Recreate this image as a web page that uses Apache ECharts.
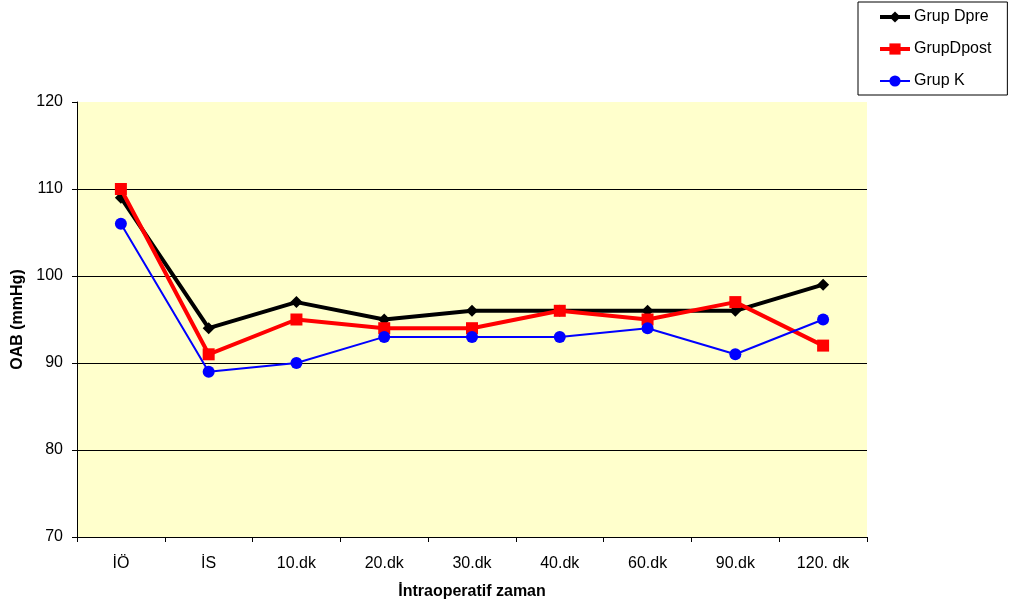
<!DOCTYPE html>
<html>
<head>
<meta charset="utf-8">
<script src="https://cdn.jsdelivr.net/npm/echarts@6/dist/echarts.min.js"></script>
<style>
  html, body { margin: 0; padding: 0; background: #fff; }
  #chart { width: 1011px; height: 608px; }
</style>
</head>
<body>
<div id="chart"></div>
<script>
// Intraoperative time points
const categories = ['İÖ', 'İS', '10.dk', '20.dk', '30.dk', '40.dk', '60.dk', '90.dk', '120. dk'];

// Mean arterial pressure (mmHg) per group
const grupDpre  = [109, 94, 97, 95, 96, 96, 96, 96, 99];
const grupDpost = [110, 91, 95, 94, 94, 96, 95, 97, 92];
const grupK     = [106, 89, 90, 93, 93, 93, 94, 91, 95];

const yTicks = [70, 80, 90, 100, 110, 120];

const font = 'Arial, "Liberation Sans", sans-serif';

const chart = echarts.init(document.getElementById('chart'), null, { renderer: 'canvas' });

chart.setOption({
  animation: false,
  backgroundColor: '#ffffff',
  grid: {
    left: 77, top: 102, width: 790, height: 435,
    containLabel: false,
    outerBoundsMode: 'none',
    show: true, backgroundColor: '#FFFFCC', borderWidth: 0
  },
  legend: {
    orient: 'vertical',
    left: 858, top: 2,
    padding: [7, 16, 6, 20],
    borderColor: '#000', borderWidth: 1,
    backgroundColor: '#fff',
    itemWidth: 30, itemHeight: 14,
    itemGap: 16,
    textStyle: { fontFamily: font, fontSize: 16, color: '#000', padding: [0, 0, 0, -1] },
    data: [
      { name: 'Grup Dpre', lineStyle: { width: 4 } },
      { name: 'GrupDpost', lineStyle: { width: 4 } },
      { name: 'Grup K', lineStyle: { width: 2 } }
    ]
  },
  xAxis: {
    type: 'category',
    data: categories,
    boundaryGap: true,
    name: 'İntraoperatif zaman',
    nameLocation: 'middle',
    nameGap: 47,
    nameTextStyle: { fontFamily: font, fontSize: 16, fontWeight: 'bold', color: '#000' },
    axisLine: { lineStyle: { color: '#000', width: 1 } },
    axisTick: { show: true, length: 5, lineStyle: { color: '#000' } },
    axisLabel: { fontFamily: font, fontSize: 16, color: '#000', margin: 19 },
    splitLine: { show: false }
  },
  yAxis: {
    type: 'value',
    min: yTicks[0], max: yTicks[yTicks.length - 1], interval: 10,
    name: 'OAB (mmHg)',
    nameLocation: 'middle',
    nameGap: 50,
    nameTextStyle: { fontFamily: font, fontSize: 16, fontWeight: 'bold', color: '#000' },
    axisLine: { show: true, lineStyle: { color: '#000', width: 1 } },
    axisTick: { show: true, length: 5, lineStyle: { color: '#000' } },
    axisLabel: { fontFamily: font, fontSize: 16, color: '#000', margin: 14 },
    splitLine: { show: true, showMaxLine: false, lineStyle: { color: '#000', width: 1 } }
  },
  series: [
    {
      name: 'Grup Dpre', type: 'line', data: grupDpre,
      symbol: 'diamond', symbolSize: 12,
      itemStyle: { color: '#000' },
      lineStyle: { color: '#000', width: 4 },
      z: 3
    },
    {
      name: 'GrupDpost', type: 'line', data: grupDpost,
      symbol: 'rect', symbolSize: 12,
      itemStyle: { color: '#FF0000' },
      lineStyle: { color: '#FF0000', width: 4 },
      z: 4
    },
    {
      name: 'Grup K', type: 'line', data: grupK,
      symbol: 'circle', symbolSize: 12,
      itemStyle: { color: '#0000FF' },
      lineStyle: { color: '#0000FF', width: 2 },
      z: 5
    }
  ]
});
</script>
</body>
</html>
